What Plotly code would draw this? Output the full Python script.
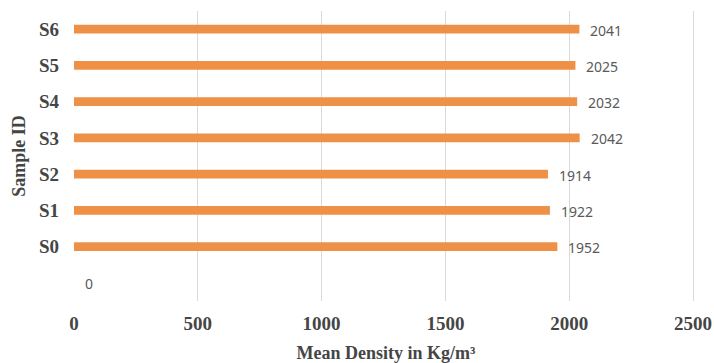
import plotly.graph_objects as go

categories = [" ", "S0", "S1", "S2", "S3", "S4", "S5", "S6"]
densities = [0, 1952, 1922, 1914, 2042, 2032, 2025, 2041]
x_ticks = [0, 500, 1000, 1500, 2000, 2500]

bar_color = "#EE9147"
serif = "Liberation Serif, Times New Roman, serif"

fig = go.Figure()
fig.add_trace(go.Bar(
    y=categories, x=densities, orientation="h",
    marker=dict(color=bar_color, line=dict(width=0)),
    width=0.24, showlegend=False,
))

for c, v in zip(categories, densities):
    fig.add_annotation(x=v, y=c, text=str(v), showarrow=False,
                       xanchor="left", xshift=9, yshift=-1,
                       font=dict(family="Noto Sans, Open Sans, sans-serif", size=14, color="#595959"))

fig.update_layout(
    width=714, height=363,
    margin=dict(l=74, r=16, t=11, b=62, autoexpand=False),
    paper_bgcolor="white", plot_bgcolor="white",
    bargap=0.76,
    xaxis=dict(
        range=[0, 2520], tickvals=x_ticks, ticktext=[str(t) for t in x_ticks],
        automargin=False,
        showgrid=True, gridcolor="#D9D9D9", gridwidth=1, zeroline=False,
        showline=False, ticks="", ticklabelstandoff=9,
        tickfont=dict(family=serif, size=19, color="#454545", weight="bold"),
        title=dict(text="Mean Density in Kg/m³", standoff=14,
                   font=dict(family=serif, size=18, color="#454545", weight="bold")),
    ),
    yaxis=dict(
        categoryorder="array", categoryarray=categories,
        range=[-0.5, 7.5], automargin=False,
        showgrid=False, zeroline=False, showline=False, ticks="",
        ticklabelstandoff=14,
        tickfont=dict(family=serif, size=19, color="#454545", weight="bold"),
        title=dict(text="Sample ID", standoff=8,
                   font=dict(family=serif, size=18, color="#454545", weight="bold")),
    ),
)

fig.write_html("out.html")
